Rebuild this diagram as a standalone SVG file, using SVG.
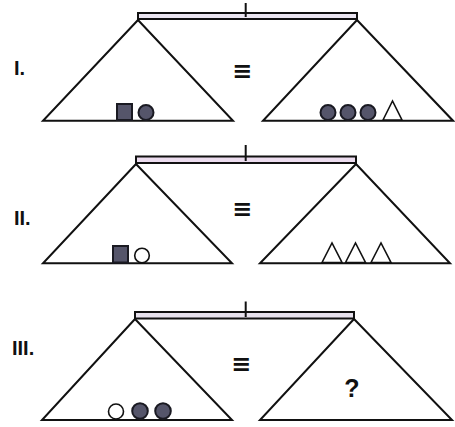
<svg xmlns="http://www.w3.org/2000/svg" width="455" height="427" viewBox="0 0 455 427">
<style>
.ln{fill:none;stroke:#111;stroke-width:2}
.beam{stroke:#111;stroke-width:2}
.dk{fill:#55556a;stroke:#1a1a22;stroke-width:2}
.op{fill:#fff;stroke:#111;stroke-width:1.6}
.lbl{font-family:"Liberation Sans",Arial,sans-serif;font-weight:bold;font-size:20px;fill:#111}
.eq{font-family:"DejaVu Sans",sans-serif;font-weight:bold;font-size:24px;fill:#111;text-anchor:middle}
</style>
<rect width="455" height="427" fill="#fff"/>
<g id="panel1">
<rect class="beam" x="138" y="13" width="219" height="6" fill="#ebe6f2"/>
<line class="ln" x1="245.7" y1="3" x2="245.7" y2="17"/>
<polygon class="ln" points="138,20 43,120.7 233,120.7"/>
<polygon class="ln" points="357,20 263,120.7 453,120.7"/>
<text class="lbl" x="14" y="75">I.</text>
<text class="eq" x="242" y="79">≡</text>
<rect class="dk" x="117" y="104" width="15" height="16"/>
<circle class="dk" cx="146" cy="112.5" r="7.5"/>
<circle class="dk" cx="328" cy="112.5" r="7.5"/>
<circle class="dk" cx="348" cy="112.5" r="7.5"/>
<circle class="dk" cx="368" cy="112.5" r="7.5"/>
<polygon class="op" points="383,120 392.5,101 402,120"/>
</g>
<g id="panel2">
<rect class="beam" x="136" y="156.5" width="220" height="6.5" fill="#ecdcef"/>
<line class="ln" x1="245.7" y1="145" x2="245.7" y2="161"/>
<polygon class="ln" points="136,164 43,263.3 232,263.3"/>
<polygon class="ln" points="356,164 260,263.3 450,263.3"/>
<text class="lbl" x="14" y="225">II.</text>
<text class="eq" x="242" y="217">≡</text>
<rect class="dk" x="113" y="246" width="15" height="16.5"/>
<circle class="op" cx="142" cy="255.5" r="7.3"/>
<polygon class="op" points="322,262.5 332,243 342,262.5"/>
<polygon class="op" points="345.5,262.5 355.5,243 365.5,262.5"/>
<polygon class="op" points="371,262.5 381,243 391,262.5"/>
</g>
<g id="panel3">
<rect class="beam" x="135" y="312" width="219" height="6.5" fill="#e8e2ee"/>
<line class="ln" x1="245.7" y1="301.5" x2="245.7" y2="317"/>
<polygon class="ln" points="135,319 42,420 232,420"/>
<polygon class="ln" points="354,319 260,420 452,420"/>
<text class="lbl" x="12" y="355">III.</text>
<text class="eq" x="241" y="372">≡</text>
<circle class="op" cx="116" cy="411.5" r="7.5"/>
<circle class="dk" cx="140" cy="411" r="7.8"/>
<circle class="dk" cx="163" cy="411" r="7.8"/>
<text x="352" y="397" text-anchor="middle" style="font-family:'Liberation Sans',Arial,sans-serif;font-weight:bold;font-size:25px;fill:#111">?</text>
</g>
</svg>
